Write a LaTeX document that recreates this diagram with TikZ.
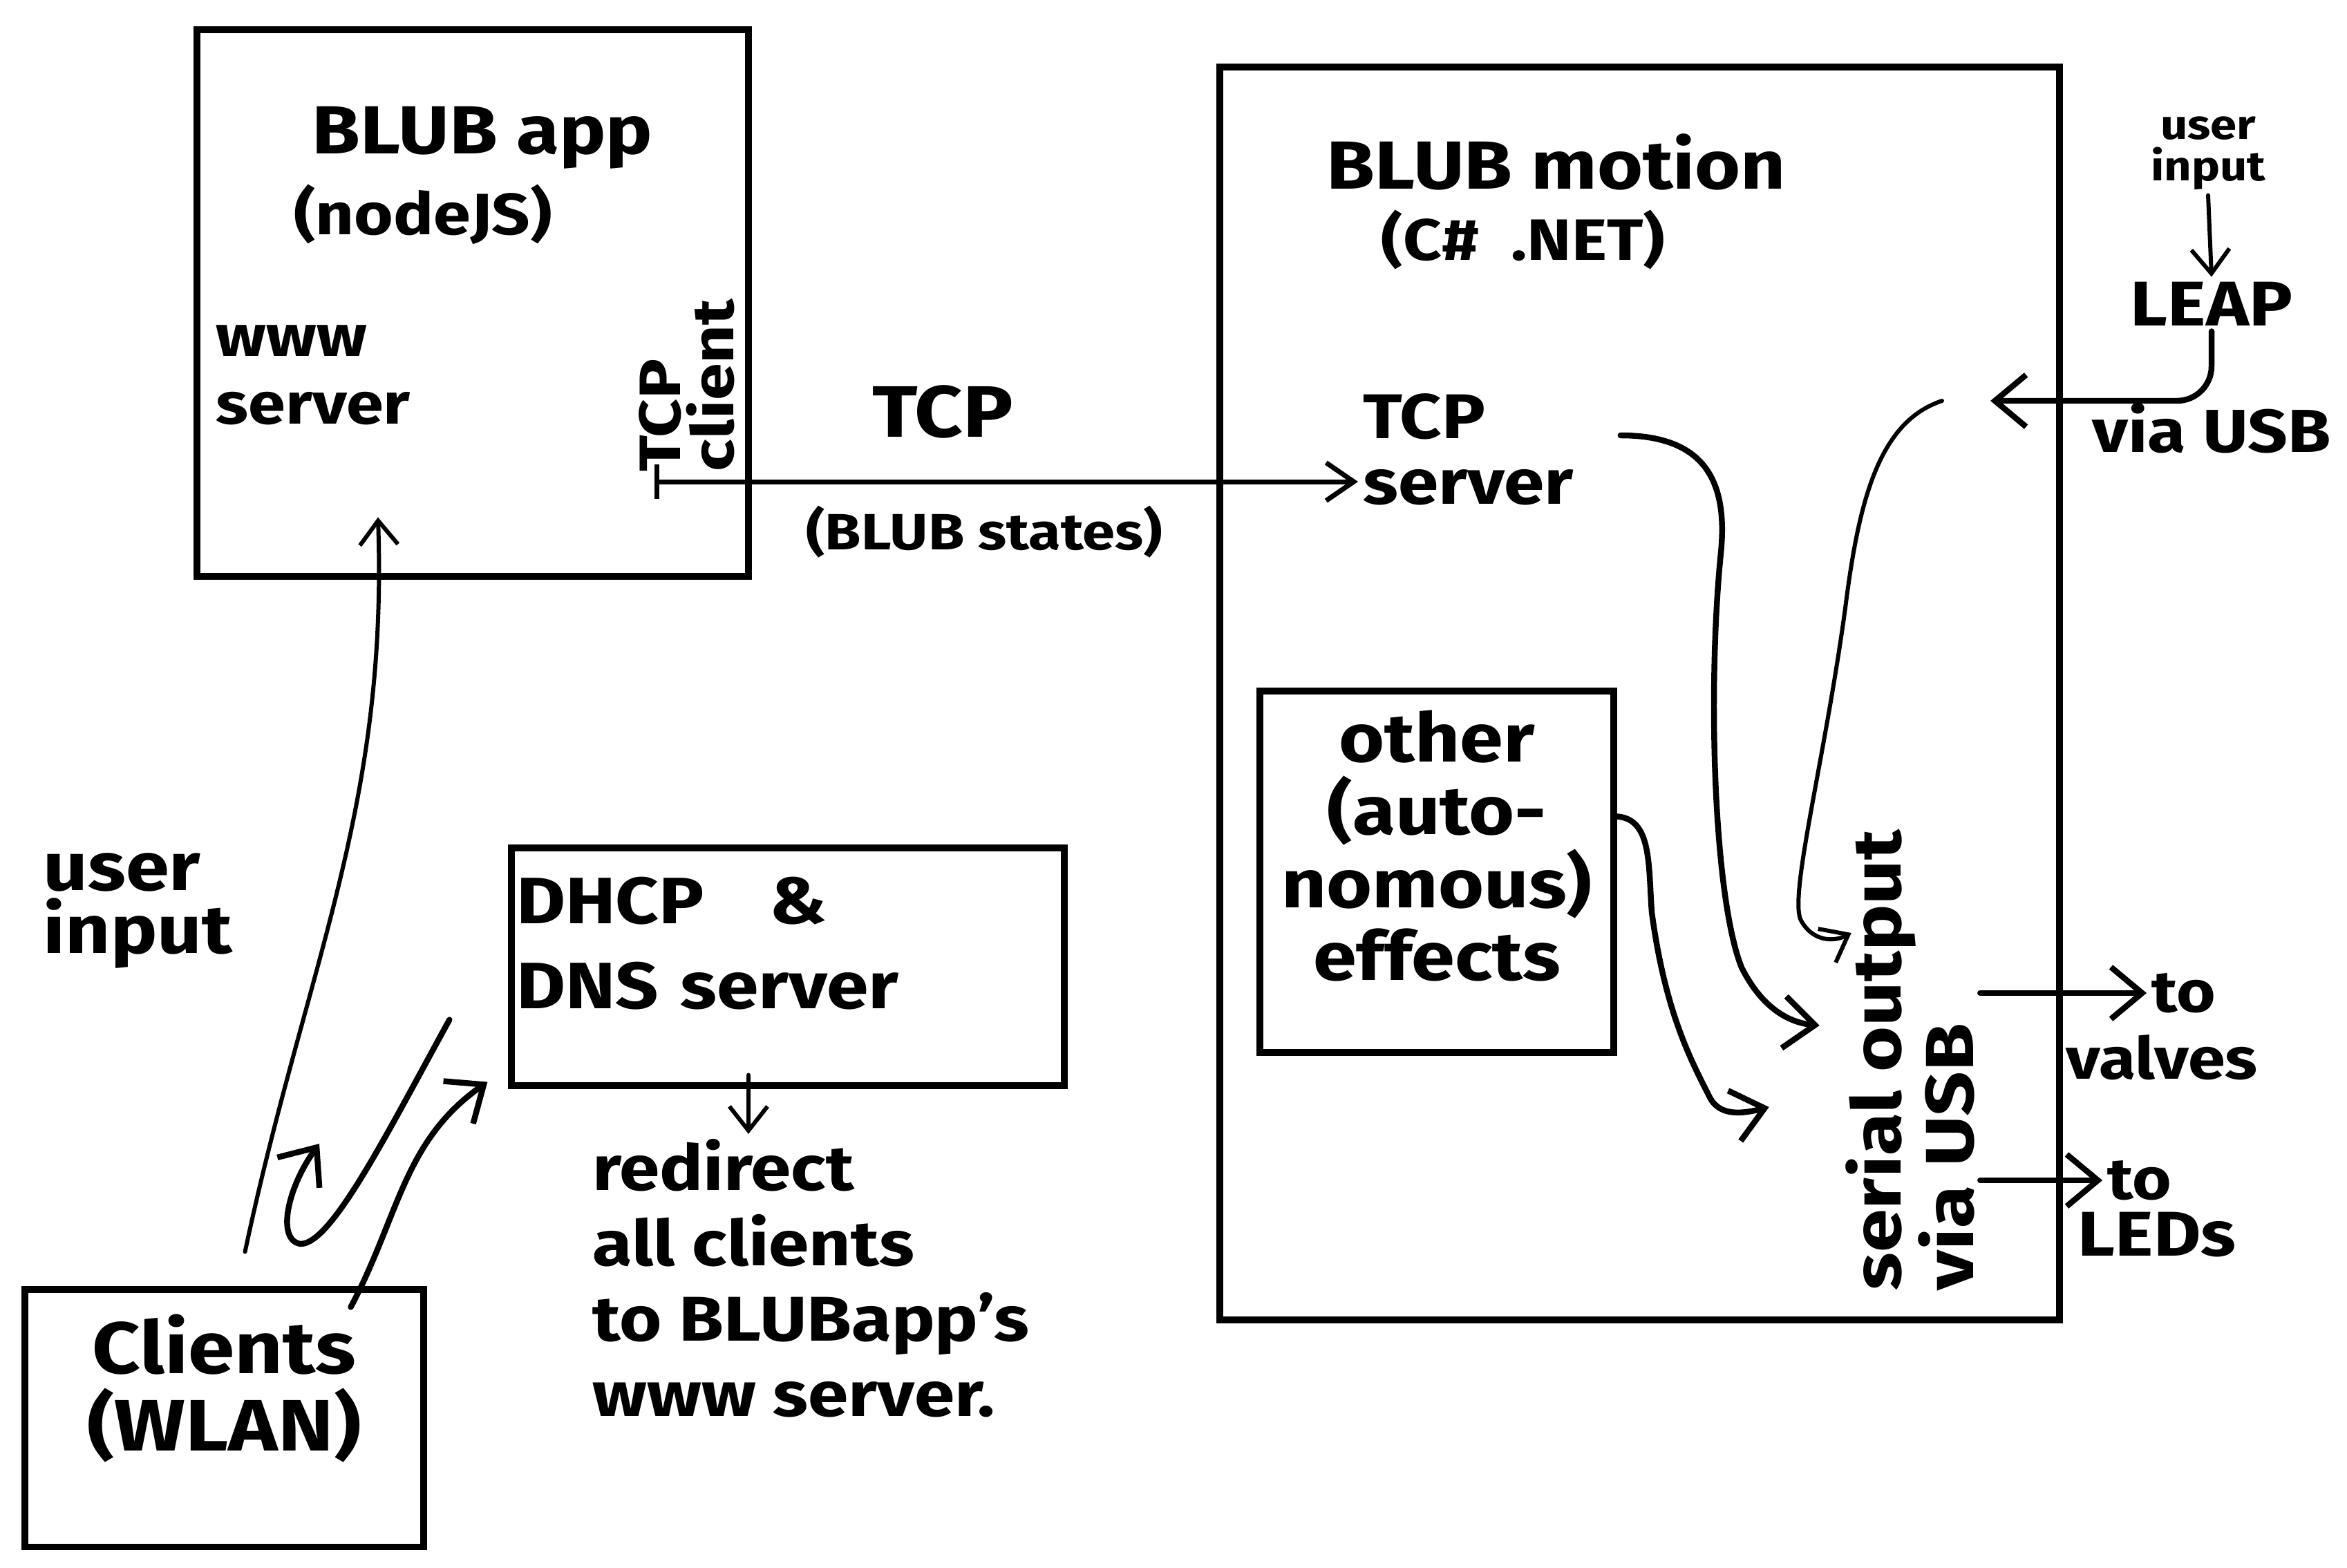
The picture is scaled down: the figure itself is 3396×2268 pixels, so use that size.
\documentclass[tikz,border=0pt]{standalone}
\usepackage{fontspec}
\setmainfont{Fira Sans}[FakeStretch=1.15]
\usetikzlibrary{arrows.meta,fit}

\begin{document}
\begin{tikzpicture}[x=0.01cm, y=-0.01cm,
    box/.style={draw, line width=2.6pt, inner sep=0pt},
    txt/.style 2 args={font=\bfseries\fontsize{#1}{#2}\selectfont, inner sep=2pt},
    arr/.style={line width=2.4pt, line cap=round, -{Straight Barb[length=4.5mm,width=7.5mm,line width=2.4pt]}},
    thinarr/.style={line width=1.7pt, line cap=round, -{Straight Barb[length=3.5mm,width=5.5mm,line width=1.7pt]}},
    tcparr/.style={line width=2pt, line cap=round, {Bar[width=5mm,line width=2pt]}-{Straight Barb[length=4mm,width=5.5mm,line width=2pt]}}]
  \useasboundingbox (0,0) rectangle (3396,2268);

  \node[box, fit={(285,43) (1083,834)}] (app) {};
  \node[box, fit={(1765,97) (2980,1910)}] (motion) {};
  \node[box, fit={(1830,1007) (2328,1516)}, txt={28}{30}, align=center] (other) {other\\(auto-\\nomous)\\effects};
  \node[box, fit={(747,1234) (1533,1564)}, txt={27}{35}, align=left] (dhcp) {DHCP \ \ \&\\DNS server};
  \node[box, fit={(43,1873) (606,2231)}, txt={30}{32}, align=center] (clients) {Clients\\(WLAN)};

  \node[txt={28}{32}] (appname) at (698,199) {BLUB app};
  \node[txt={24}{28}] (appsub) at (612,310) {(nodeJS)};
  \node[txt={24}{28}, align=left, anchor=west] (www) at (305,543) {www\\server};
  \node[txt={24}{22}, align=left, anchor=west, rotate=90] (tcpc) at (994,690) {TCP\\client};
  \node[txt={30}{34}] (tcplbl) at (1364,596) {TCP};
  \node[txt={21}{25}] (states) at (1424,770) {(BLUB states)};

  \node[txt={28}{32}] (motname) at (2252,234) {BLUB motion};
  \node[txt={24}{28}] (motsub) at (2204,347) {(C\# \ .NET)};
  \node[txt={26}{27}, align=left, anchor=west] (tcps) at (1965,650) {TCP\\server};
  \node[txt={28}{30}, align=left, anchor=west, rotate=90] (ser) at (2764,1875) {serial output\\via USB};

  \node[txt={17}{17}, align=center] (userleap) at (3195,222) {user\\input};
  \node[txt={26}{30}] (leap) at (3200,440) {LEAP};
  \node[txt={25}{30}] (viausb) at (3200,620) {via USB};
  \node[txt={24}{28}] (tov) at (3160,1437) {to};
  \node[txt={24}{28}] (valves) at (3128,1530) {valves};
  \node[txt={24}{28}] (tol) at (3096,1708) {to};
  \node[txt={26}{30}] (leds) at (3121,1787) {LEDs};

  \node[txt={28}{26}, align=left, anchor=west] (userin) at (55,1318) {user\\input};
  \node[txt={26}{31}, align=left, anchor=west] (redirect) at (850,1850) {redirect\\all clients\\to BLUBapp's\\www server.};

  \coordinate (tcpstart) at ([xshift=3mm,yshift=-0.7mm]tcpc.north west);
  \draw[tcparr] (tcpstart) -- (tcpstart -| tcps.west);

  \draw[thinarr] ([xshift=3mm,yshift=5mm]clients.north) to[out=78,in=-88] ([xshift=-13.7mm,yshift=9mm]app.south);
  \draw[arr] ([xshift=-11mm,yshift=-3mm]clients.north east) to[out=62,in=215] ([xshift=-3mm,yshift=1mm]dhcp.south west);
  \coordinate (hooktip) at (462,1655);
  \draw[arr] ([xshift=-8.5mm,yshift=10mm]dhcp.south west) .. controls (560,1640) and (480,1800) .. (435,1800)
    .. controls (400,1795) and (415,1720) .. (hooktip);

  \coordinate (dhcpout) at ([xshift=-5.7mm,yshift=2mm]dhcp.south);
  \draw[thinarr] (dhcpout) -- (dhcpout |- redirect.north);

  \draw[arr] ([xshift=6mm,yshift=2mm]tcps.east) .. controls (2470,630) and (2500,700) .. (2490,800)
    .. controls (2470,1000) and (2480,1300) .. (2520,1400)
    .. controls (2550,1460) and (2590,1480) .. ([xshift=-3mm,yshift=5mm]ser.north);
  \draw[arr] ([yshift=8mm]other.east) .. controls (2390,1185) and (2385,1250) .. (2390,1320)
    .. controls (2410,1470) and (2450,1540) .. (2475,1590)
    .. controls (2490,1615) and (2520,1612) .. ([xshift=-10.3mm,yshift=-6.8mm]ser.north);

  \coordinate (leapend) at (2880,580);
  \draw[thinarr] (userleap.south) -- (leap.north);
  \draw[arr, rounded corners=5mm] (leap.south) |- (leapend);
  \draw[thinarr] ([xshift=-7mm]leapend) .. controls (2720,610) and (2690,720) .. (2670,880)
    .. controls (2640,1100) and (2590,1290) .. (2605,1330)
    .. controls (2620,1360) and (2650,1365) .. ([xshift=1.6mm,yshift=-15.7mm]ser.north east);

  \draw[arr] (ser.south |- tov.west) -- (tov.west);
  \draw[arr] (ser.south |- tol.west) -- (tol.west);
\end{tikzpicture}
\end{document}
